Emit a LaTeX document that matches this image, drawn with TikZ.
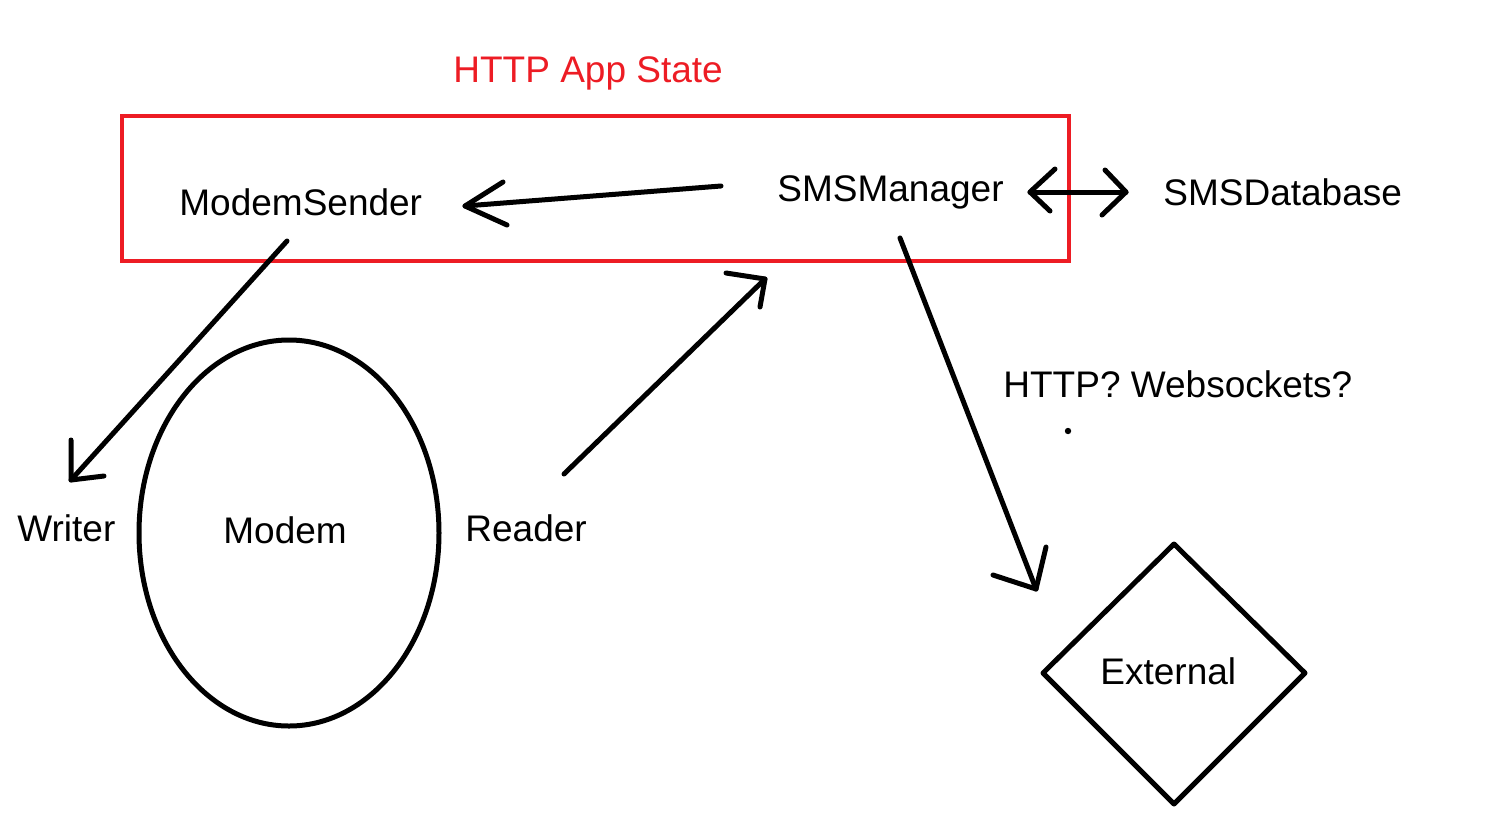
\documentclass[tikz,border=0pt]{standalone}
\usepackage{fontspec}
\setmainfont{Liberation Sans}
\usetikzlibrary{shapes.geometric}
\definecolor{boxred}{RGB}{237,28,36}
\tikzset{
  lbl/.style={anchor=base west, inner sep=0pt, font=\fontsize{18.5}{20}\selectfont},
  pen/.style={line width=2.5pt, line cap=round, line join=round, black},
}
\begin{document}
\begin{tikzpicture}[x=0.5pt,y=-0.5pt]
\useasboundingbox (0,0) rectangle (1509,831);
% red box
\draw[boxred, line width=2pt] (122,116) rectangle (1069,261);
\node[lbl, text=boxred] (title) at (453,82) {HTTP App State};
% labels
\node[lbl] (sender) at (179,215) {ModemSender};
\node[lbl] (manager) at (777,201) {SMSManager};
\node[lbl] (db) at (1163,205) {SMSDatabase};
\node[lbl] (proto) at (1003,397) {HTTP? Websockets?};
\node[lbl] (writer) at (17,541) {Writer};
\node[lbl] (reader) at (465,541) {Reader};
% modem ellipse
\node[draw, pen, ellipse, minimum width=150pt, minimum height=193pt, inner sep=0pt] (modem) at (289,533) {};
\node[lbl] (modemtxt) at (223,543) {Modem};
% external diamond
\draw[pen] (1174,544) -- (1305,673) -- (1174,804) -- (1043,673) -- cycle;
\node[lbl] (ext) at (1100,684) {External};
% arrow manager -> sender
\coordinate (a1s) at (721,186);
\coordinate (a1e) at (465,206);
\draw[pen] (a1s) -- (a1e);
\draw[pen] (503,182) -- (a1e) -- (507,225);
% double arrow manager <-> db
\coordinate (a2l) at (1030,192);
\coordinate (a2r) at (1126,192);
\draw[pen] (a2l) -- (a2r);
\draw[pen] (1055,169) -- (a2l) -- (1050,211);
\draw[pen] (1105,170) -- (a2r) -- (1102,215);
% sender -> writer
\coordinate (a3s) at (287,241);
\coordinate (a3e) at (71,480);
\draw[pen] (a3s) -- (a3e);
\draw[pen] (71,440) -- (a3e) -- (104,476);
% reader -> manager
\coordinate (a4s) at (564,474);
\coordinate (a4e) at (765,279);
\draw[pen] (a4s) -- (a4e);
\draw[pen] (726,273) -- (a4e) -- (760,307);
% manager -> external
\coordinate (a5s) at (900,238);
\coordinate (a5e) at (1036,589);
\draw[pen] (a5s) -- (a5e);
\draw[pen] (1046,547) -- (a5e) -- (993,575);
% stray dot
\fill (1068,431) circle (1.6pt);
\end{tikzpicture}
\end{document}
